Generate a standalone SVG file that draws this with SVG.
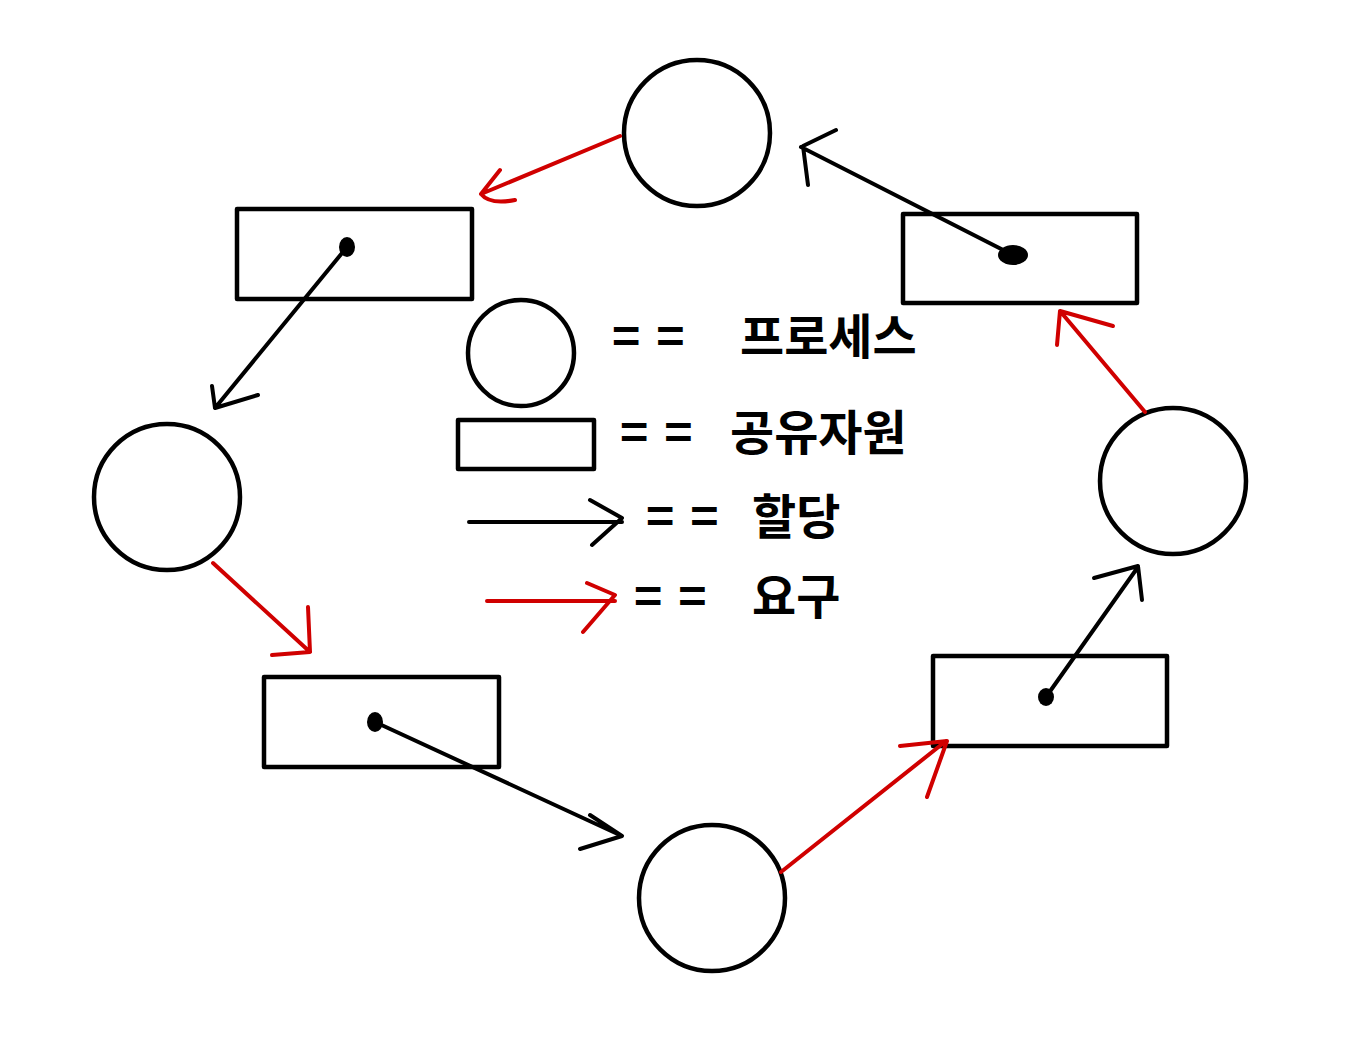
<svg xmlns="http://www.w3.org/2000/svg" width="1372" height="1062" viewBox="0 0 1372 1062">
<style>
.shape{fill:none;stroke:#000;stroke-width:4.5;stroke-linejoin:round}
.blk{fill:none;stroke:#000;stroke-width:4;stroke-linecap:round;stroke-linejoin:round}
.red{fill:none;stroke:#d00000;stroke-width:4;stroke-linecap:round;stroke-linejoin:round}
.dot{fill:#000}
.lbl{font-family:"Noto Sans CJK KR","Noto Sans",sans-serif;font-size:48px;font-weight:bold;fill:#000}
.eq{letter-spacing:16px}
</style>
<rect width="1372" height="1062" fill="#fff"/>
<g id="p-top"><circle class="shape" cx="697" cy="133" r="73"/></g>
<g id="p-left"><circle class="shape" cx="167" cy="497" r="73"/></g>
<g id="p-bottom"><circle class="shape" cx="712" cy="898" r="73"/></g>
<g id="p-right"><circle class="shape" cx="1173" cy="481" r="73"/></g>
<g id="r-topleft"><rect class="shape" x="237" y="209" width="235" height="90"/></g>
<g id="r-topright"><rect class="shape" x="903" y="214" width="234" height="89"/></g>
<g id="r-bottomleft"><rect class="shape" x="264" y="677" width="235" height="90"/></g>
<g id="r-bottomright"><rect class="shape" x="933" y="656" width="234" height="90"/></g>
<g id="legend">
<g id="legend-process"><circle class="shape" cx="521" cy="353" r="53"/><text class="lbl" x="612" y="354"><tspan class="eq">==</tspan><tspan x="740">프로세스</tspan></text></g>
<g id="legend-resource"><rect class="shape" x="458" y="420" width="136" height="49"/><text class="lbl" x="620" y="450"><tspan class="eq">==</tspan><tspan x="730">공유자원</tspan></text></g>
<g id="legend-alloc"><path class="blk" d="M469 522 L622 522 M590 500 L622 518 L592 545"/><text class="lbl" x="646" y="534"><tspan class="eq">==</tspan><tspan x="752">할당</tspan></text></g>
<g id="legend-request"><path class="red" d="M487 601 L615 601 M587 583 L615 595 L583 632"/><text class="lbl" x="634" y="614"><tspan class="eq">==</tspan><tspan x="752">요구</tspan></text></g>
</g>
<g id="connectors">
<path class="red" d="M620 136 L481 194 M500 170 L481 194 Q490 205 515 200"/>
<ellipse class="dot" cx="347" cy="247" rx="8" ry="10"/>
<path class="blk" d="M347 247 L215 408 M212 386 L215 408 L258 395"/>
<path class="red" d="M213 563 L310 652 M272 655 L310 652 L308 607"/>
<ellipse class="dot" cx="375" cy="722" rx="8" ry="10"/>
<path class="blk" d="M375 722 L622 836 M590 815 L622 836 L580 849"/>
<path class="red" d="M781 872 L946 741 M900 746 L947 741 L927 797"/>
<ellipse class="dot" cx="1046" cy="697" rx="8" ry="9"/>
<path class="blk" d="M1046 697 L1138 567 M1094 578 L1138 566 L1142 600"/>
<path class="red" d="M1145 412 L1060 311 M1057 345 L1060 311 L1113 326"/>
<ellipse class="dot" cx="1013" cy="255" rx="15" ry="10"/>
<path class="blk" d="M1013 255 L801 147 M836 130 L803 146 L808 185"/>
</g>
</svg>
